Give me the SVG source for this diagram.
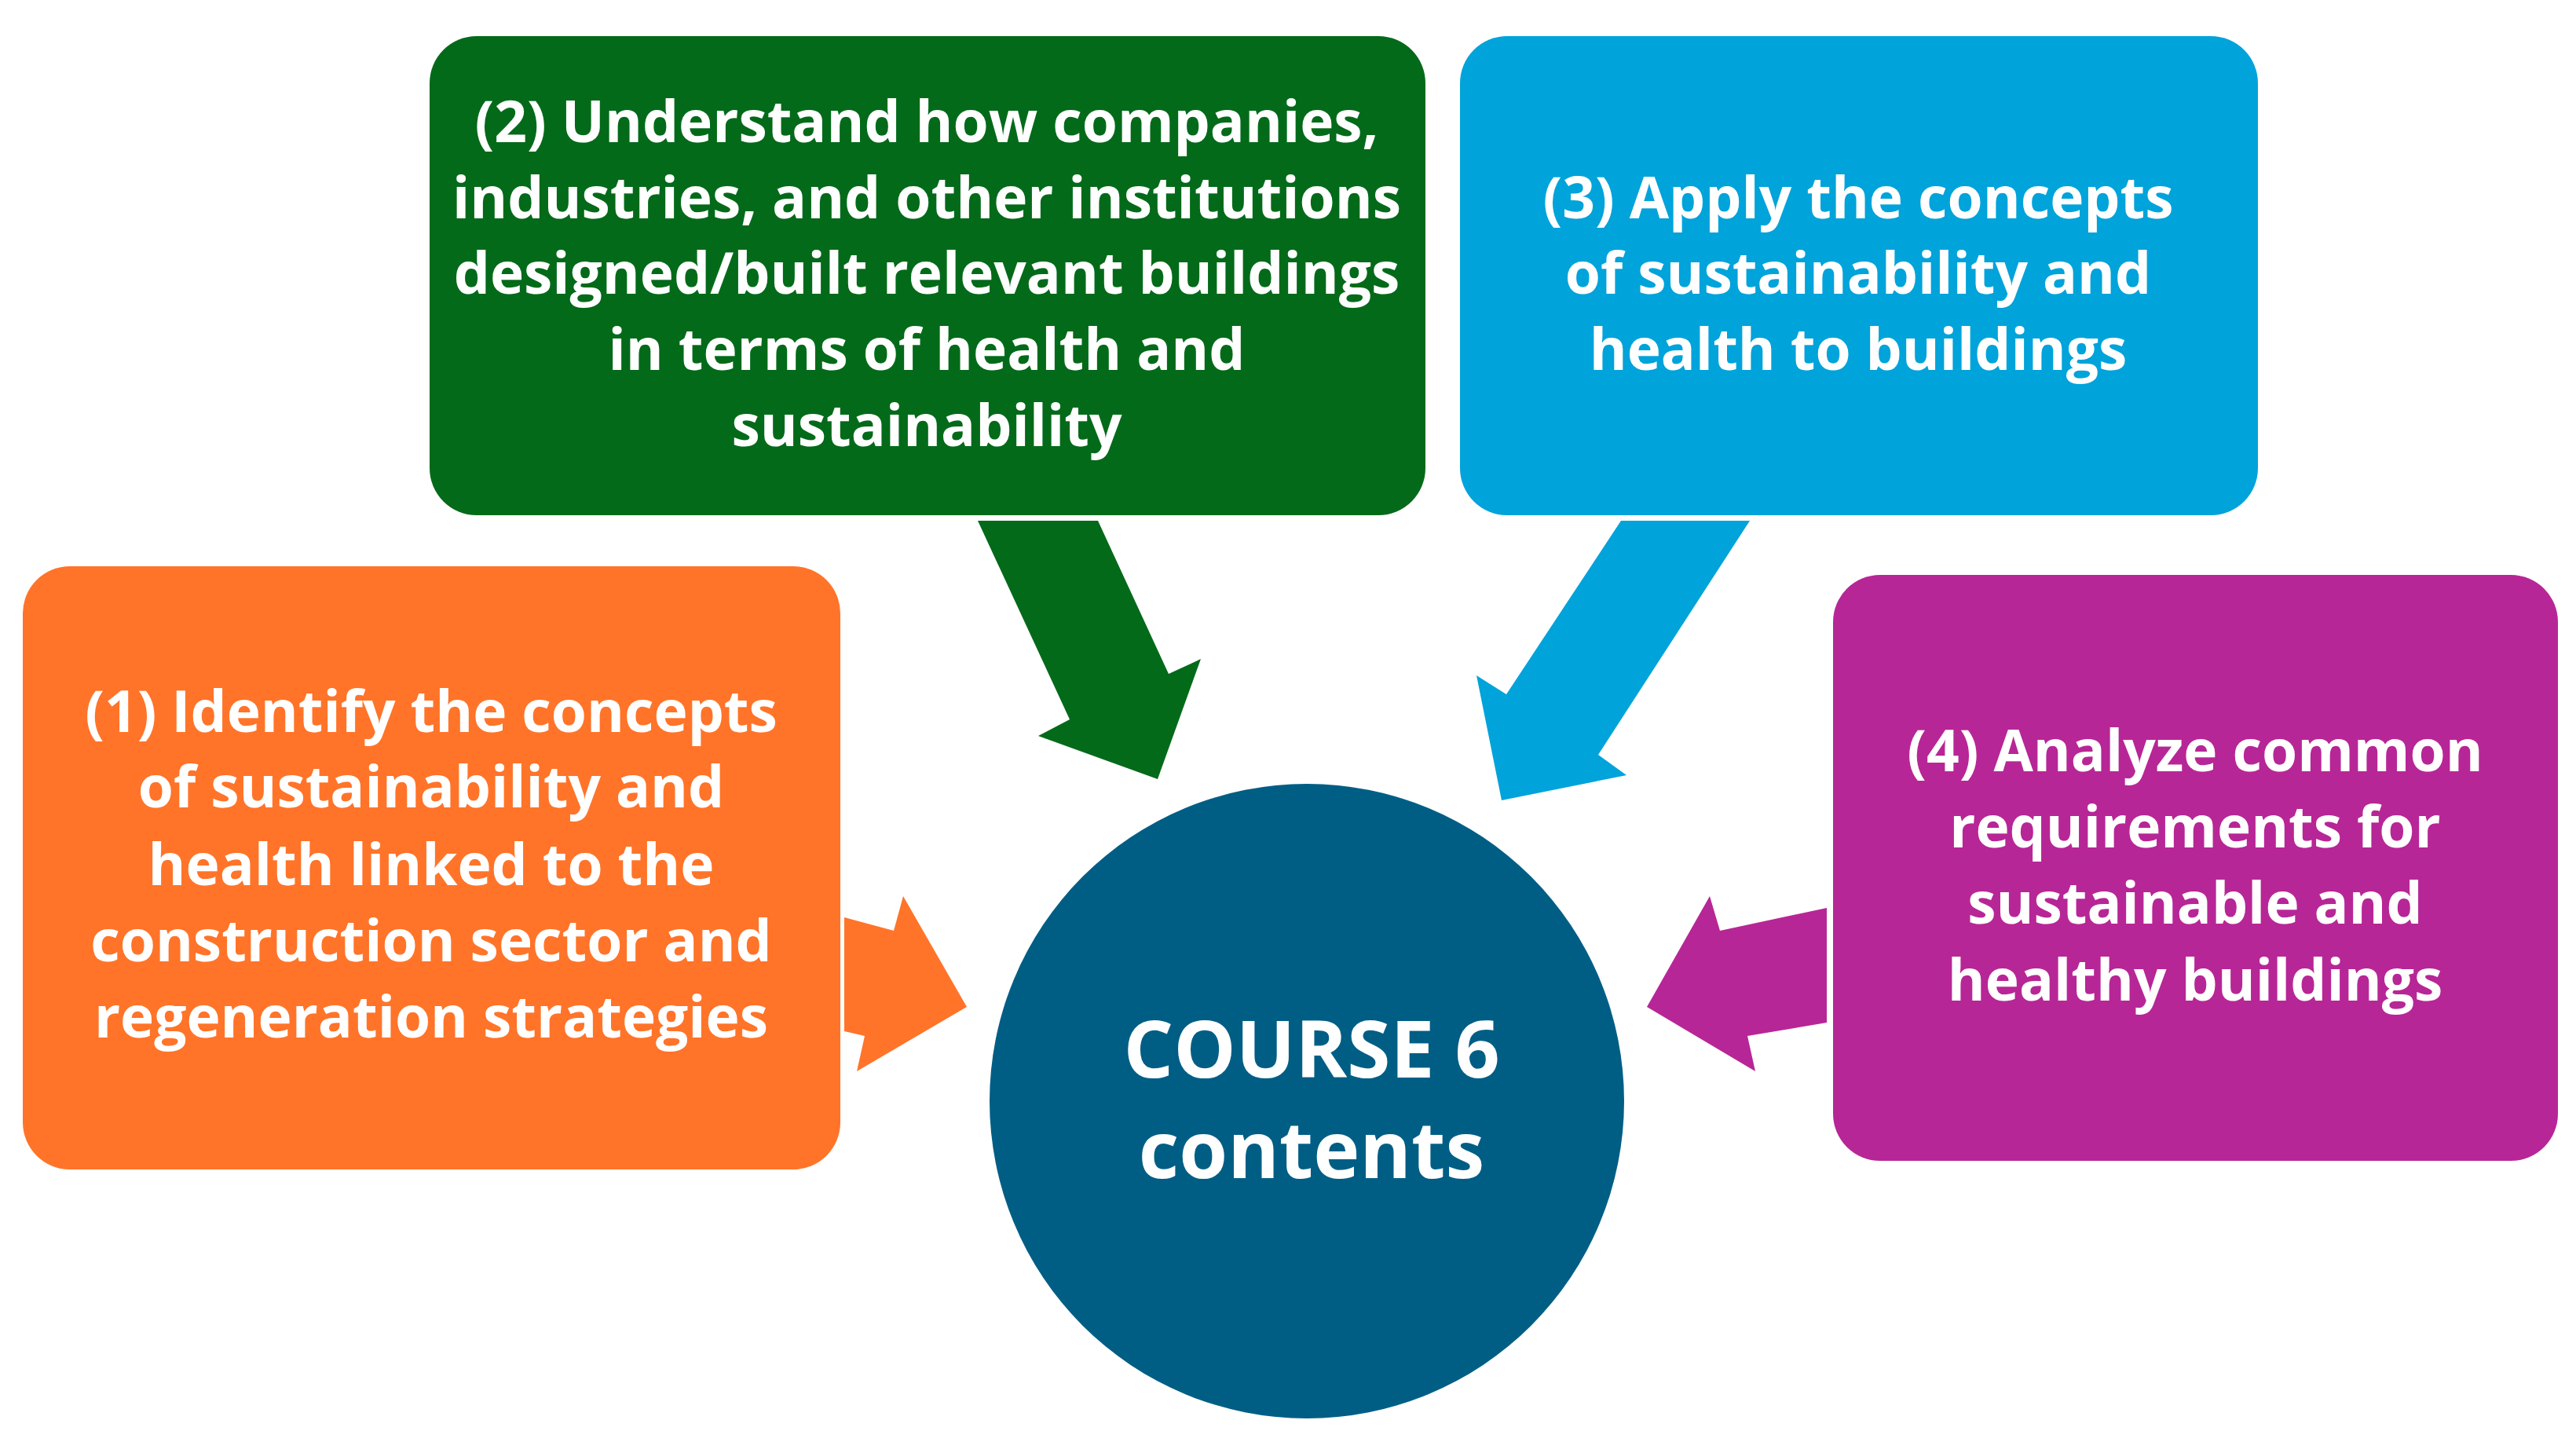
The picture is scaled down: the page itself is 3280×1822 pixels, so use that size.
<svg xmlns="http://www.w3.org/2000/svg" width="3280" height="1822" viewBox="0 0 3280 1822">
<style>
.t{font-family:"Open Sans","Liberation Sans",sans-serif;font-weight:bold;fill:#fff;text-anchor:middle;font-size:73px}
.c{font-size:100px}
</style>
<rect width="3280" height="1822" fill="#fff"/>
<g id="connectors">
<polygon fill="#036A19" points="1245,663 1398,663 1488,858 1529,839 1474,992 1322,937 1362,916"/>
<polygon fill="#00A3DA" points="2064,663 2228,663 2035,961 2071,987 1912,1019 1880,860 1918,884"/>
<polygon fill="#FF7429" points="1075,1168 1138,1185 1150,1141 1231,1282 1091,1364 1101,1319 1075,1313"/>
<polygon fill="#B72696" points="2326,1156 2190,1185 2177,1141 2097,1282 2235,1364 2225,1319 2326,1302"/>
</g>
<g id="n2"><rect x="547" y="46" width="1268" height="610" rx="60" fill="#036A19"/>
<text class="t"><tspan x="1180" y="181">(2) Understand how companies,</tspan><tspan x="1180" y="278">industries, and other institutions</tspan><tspan x="1180" y="374">designed/built relevant buildings</tspan><tspan x="1180" y="471">in terms of health and</tspan><tspan x="1180" y="568">sustainability</tspan></text></g>
<g id="n3"><rect x="1859" y="46" width="1016" height="610" rx="60" fill="#00A3DA"/>
<text class="t"><tspan x="2366" y="278">(3) Apply the concepts</tspan><tspan x="2366" y="374">of sustainability and</tspan><tspan x="2366" y="471">health to buildings</tspan></text></g>
<g id="n1"><rect x="29" y="721" width="1041" height="768" rx="60" fill="#FF7429"/>
<text class="t"><tspan x="549" y="932">(1) Identify the concepts</tspan><tspan x="549" y="1028">of sustainability and</tspan><tspan x="549" y="1127">health linked to the</tspan><tspan x="549" y="1224">construction sector and</tspan><tspan x="549" y="1321">regeneration strategies</tspan></text></g>
<g id="n4"><rect x="2334" y="732" width="923" height="746" rx="60" fill="#B72696"/>
<text class="t"><tspan x="2795" y="982">(4) Analyze common</tspan><tspan x="2795" y="1079">requirements for</tspan><tspan x="2795" y="1176">sustainable and</tspan><tspan x="2795" y="1274">healthy buildings</tspan></text></g>
<g id="center"><circle cx="1664" cy="1402" r="404" fill="#005E85"/>
<text class="t c"><tspan x="1670" y="1372">COURSE 6</tspan><tspan x="1670" y="1500">contents</tspan></text></g>
</svg>
